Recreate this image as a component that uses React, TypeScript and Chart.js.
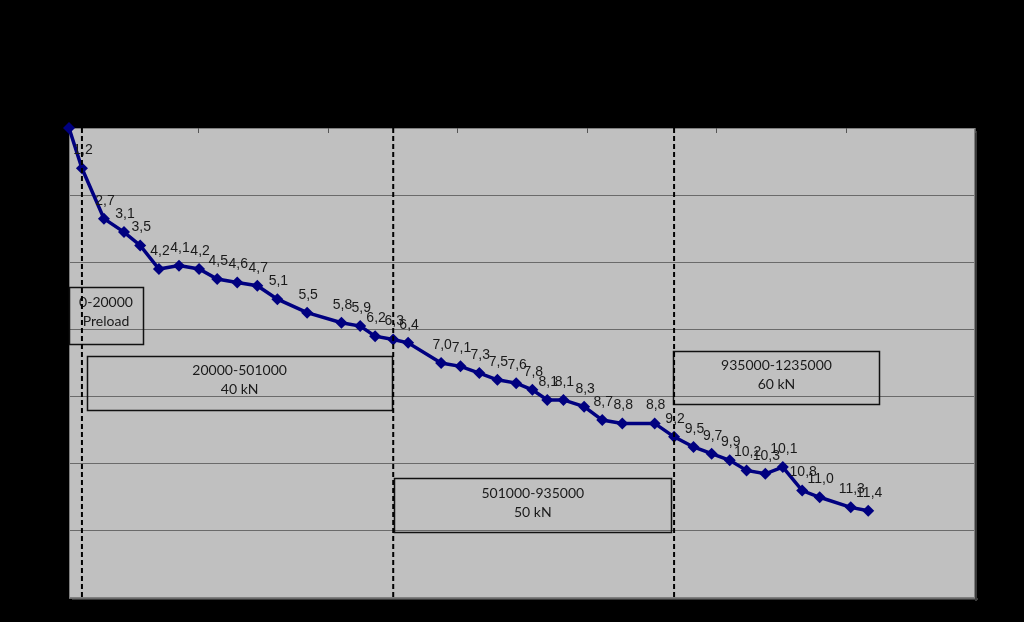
import React, { useEffect, useRef } from "react";
import { Chart, registerables } from "chart.js";

Chart.register(...registerables);

// Load cycles (x) and settlement in mm (y)
const cycles = [
  0, 20000, 54000, 85000, 110000, 139000, 170000, 201000, 229000, 260000,
  291000, 322000, 368000, 421000, 450000, 473000, 501000, 524000, 575000, 605000,
  634000, 662000, 691000, 716000, 739000, 764000, 796000, 824000, 855000, 905000,
  935000, 965000, 993000, 1021000, 1047000, 1076000, 1103000, 1133000, 1160000, 1208000,
  1235000,
];
const settlement = [
  0, 1.2, 2.7, 3.1, 3.5, 4.2, 4.1, 4.2, 4.5, 4.6,
  4.7, 5.1, 5.5, 5.8, 5.9, 6.2, 6.3, 6.4, 7.0, 7.1,
  7.3, 7.5, 7.6, 7.8, 8.1, 8.1, 8.3, 8.7, 8.8, 8.8,
  9.2, 9.5, 9.7, 9.9, 10.2, 10.3, 10.1, 10.8, 11.0, 11.3,
  11.4,
];
// Phase boundaries (dashed lines)
const phaseBoundaries = [20000, 501000, 935000];
// Phase annotation boxes
const phaseLine1 = ["0-20000", "20000-501000", "501000-935000", "935000-1235000"];
const phaseLine2 = ["Preload", "40 kN", "50 kN", "60 kN"];
const phaseBoxX0 = [0, 27800, 502500, 934000];
const phaseBoxX1 = [114400, 499500, 930900, 1252500];
const phaseBoxY0 = [4.74, 6.79, 10.43, 6.64];
const phaseBoxY1 = [6.43, 8.4, 12.03, 8.22];

const xMin = 0;
const xMax = 1400000;
const xStep = 200000;
const yMin = 0;
const yMax = 14;
const yStep = 2;

const fmt = (v: number) => v.toFixed(1).replace(".", ",");

export default function App() {
  const ref = useRef<HTMLCanvasElement | null>(null);

  useEffect(() => {
    if (!ref.current) return;
    document.body.style.margin = "0";
    document.body.style.background = "#000";

    const bgPlugin = {
      id: "bg",
      beforeDraw(chart: any) {
        const { ctx, chartArea: a } = chart;
        ctx.save();
        ctx.fillStyle = "#000";
        ctx.fillRect(0, 0, chart.width, chart.height);
        ctx.fillStyle = "#3a3a3a";
        ctx.fillRect(a.left + 3, a.bottom, a.right - a.left, 2);
        ctx.fillRect(a.right, a.top + 3, 2, a.bottom - a.top);
        ctx.fillStyle = "#c0c0c0";
        ctx.fillRect(a.left, a.top, a.right - a.left, a.bottom - a.top);
        ctx.restore();
      },
      beforeDatasetsDraw(chart: any) {
        const { ctx, chartArea: a, scales } = chart;
        ctx.save();
        ctx.strokeStyle = "#808080";
        ctx.lineWidth = 1;
        ctx.strokeRect(a.left + 0.5, a.top + 0.5, a.right - a.left - 1, a.bottom - a.top - 1);
        ctx.strokeStyle = "#555";
        for (let v = xMin; v <= xMax; v += xStep) {
          const px = Math.round(scales.x.getPixelForValue(v)) + 0.5;
          ctx.beginPath();
          ctx.moveTo(px, a.top);
          ctx.lineTo(px, a.top + 5);
          ctx.stroke();
        }
        ctx.strokeStyle = "#111";
        ctx.lineWidth = 1.5;
        ctx.fillStyle = "#1a1a1a";
        ctx.font = "14px Lato, 'Open Sans', sans-serif";
        ctx.textAlign = "center";
        ctx.textBaseline = "middle";
        for (let i = 0; i < phaseLine1.length; i++) {
          const x0 = scales.x.getPixelForValue(phaseBoxX0[i]);
          const x1 = scales.x.getPixelForValue(phaseBoxX1[i]);
          const y0 = scales.y.getPixelForValue(phaseBoxY0[i]);
          const y1 = scales.y.getPixelForValue(phaseBoxY1[i]);
          ctx.strokeRect(Math.round(x0) + 0.5, Math.round(y0) + 0.5, Math.round(x1 - x0), Math.round(y1 - y0));
          const cx = (x0 + x1) / 2;
          ctx.fillText(phaseLine1[i], cx, y0 + 15);
          ctx.fillText(phaseLine2[i], cx, y0 + 34);
        }
        ctx.restore();
      },
      afterDatasetDraw(chart: any, args: any) {
        if (args.index !== 0) return;
        const { ctx } = chart;
        const meta = chart.getDatasetMeta(0);
        ctx.save();
        ctx.fillStyle = "#1a1a1a";
        ctx.font = "14px 'Liberation Sans', Arial, sans-serif";
        ctx.textAlign = "center";
        ctx.textBaseline = "middle";
        meta.data.forEach((pt: any, i: number) => {
          if (settlement[i] === 0) return;
          ctx.fillText(fmt(settlement[i]), pt.x + 1, pt.y - 18);
        });
        ctx.restore();
      },
    };

    const dashed = phaseBoundaries.map((b) => ({
      type: "line" as const,
      data: [
        { x: b, y: yMin },
        { x: b, y: yMax },
      ],
      borderColor: "#000",
      borderWidth: 2,
      borderDash: [5, 3],
      pointRadius: 0,
      order: 1,
    }));

    const chart = new Chart(ref.current, {
      type: "line",
      data: {
        datasets: [
          {
            data: cycles.map((c, i) => ({ x: c, y: settlement[i] })),
            borderColor: "#000080",
            backgroundColor: "#000080",
            borderWidth: 3.5,
            pointStyle: "rectRot",
            pointRadius: 6,
            pointBorderWidth: 0,
            tension: 0,
            clip: false,
            order: 2,
          },
          ...dashed,
        ],
      },
      options: {
        animation: false,
        responsive: true,
        maintainAspectRatio: false,
        layout: { padding: { left: 69, top: 128, right: 49, bottom: 24 } },
        plugins: { legend: { display: false }, tooltip: { enabled: false } },
        scales: {
          x: {
            type: "linear",
            min: xMin,
            max: xMax,
            ticks: { display: false, stepSize: xStep },
            grid: { display: false, drawTicks: false },
            border: { display: false },
          },
          y: {
            type: "linear",
            min: yMin,
            max: yMax,
            reverse: true,
            ticks: { display: false, stepSize: yStep },
            grid: { color: "#6a6a6a", lineWidth: 1, drawTicks: false },
            border: { display: false },
          },
        },
      },
      plugins: [bgPlugin],
    });
    return () => chart.destroy();
  }, []);

  return (
    <div style={{ position: "absolute", left: 0, top: 0, width: 1024, height: 622, background: "#000" }}>
      <canvas ref={ref} />
    </div>
  );
}
